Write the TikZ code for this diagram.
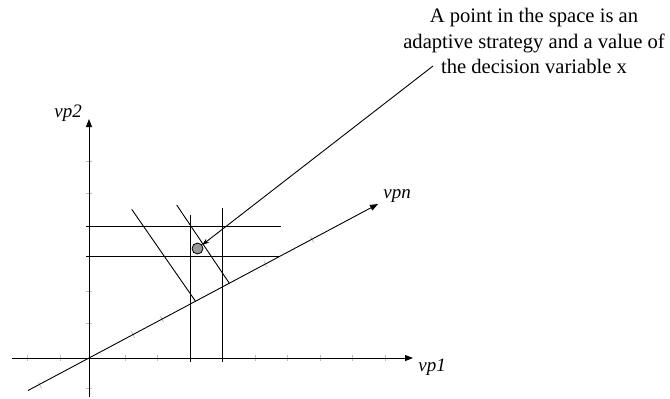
\documentclass[tikz,border=0pt]{standalone}
\usepackage{fontspec}
\setmainfont{Liberation Serif}
\usetikzlibrary{arrows.meta}
\begin{document}
\begin{tikzpicture}[x=1bp,y=-1bp, line width=0.9bp,
  axis/.style={draw=black, -{Triangle[length=8bp,width=6bp]}},
  tickmark/.style={draw=black!28, line width=0.7bp},
  guide/.style={draw=black},
  lbl/.style={font=\fontsize{19bp}{23bp}\selectfont\itshape, inner sep=0, anchor=base west},
  note/.style={font=\fontsize{20.6bp}{25.3bp}\selectfont, align=center, inner sep=0},
  pointmark/.style={circle, draw=black, fill=black!40, line width=0.8bp, minimum size=11bp, inner sep=0},
  callarrow/.style={draw=black, -{Stealth[length=7bp,width=5bp]}}
]
\useasboundingbox (0,0) rectangle (670,398);
% axes
\coordinate (O) at (89,358);
\coordinate (x0) at (12,358);
\coordinate (x1) at (413,358);
\coordinate (y0) at (89,397);
\coordinate (y1) at (89,119);
\coordinate (n0) at (28,390.5);
\coordinate (n1) at (378,204);
% ticks
\foreach \t in {27,60,125,157,255,287,320,352,385}
  \draw[tickmark] (\t,355) -- (\t,361);
\foreach \t in {161,193,291,323,388}
  \draw[tickmark] (86,\t) -- (92,\t);
\foreach \a/\b in {40/385.2,133/334.5,162/319.1,265.5/263.9,312/239.4}
  \draw[tickmark] (\a-1.65,\b-3.1) -- (\a+1.65,\b+3.1);
\draw[axis] (x0) -- (x1);
\draw[axis] (y0) -- (y1);
\draw[axis] (n0) -- (n1);
% guide lines
\coordinate (h1a) at (86,226);   \coordinate (h1b) at (281,226);
\coordinate (h2a) at (86,256);   \coordinate (h2b) at (280,256);
\coordinate (v1a) at (190,215);  \coordinate (v1b) at (190,362);
\coordinate (v2a) at (222,208);  \coordinate (v2b) at (222,362);
\coordinate (s1a) at (131.7,209.3); \coordinate (s1b) at (195.5,301.2);
\coordinate (s2a) at (176.7,205);   \coordinate (s2b) at (229.3,283.2);
\draw[guide] (h1a) -- (h1b);
\draw[guide] (h2a) -- (h2b);
\draw[guide] (v1a) -- (v1b);
\draw[guide] (v2a) -- (v2b);
\draw[guide] (s1a) -- (s1b);
\draw[guide] (s2a) -- (s2b);
% point
\node[pointmark] (pt) at (197.5,248.5) {};
% labels
\node[lbl] (lvp2) at (54,117.7) {vp2};
\node[lbl] (lvpn) at (383,198) {vpn};
\node[lbl] (lvp1) at (418,371) {vp1};
% note
\node[note, anchor=base] (note) at (534,73.3) {A point in the space is an\\adaptive strategy and a value of\\the decision variable x};
\coordinate (callout) at (433,66);
\draw[callarrow] (callout) -- (pt);
\end{tikzpicture}
\end{document}
